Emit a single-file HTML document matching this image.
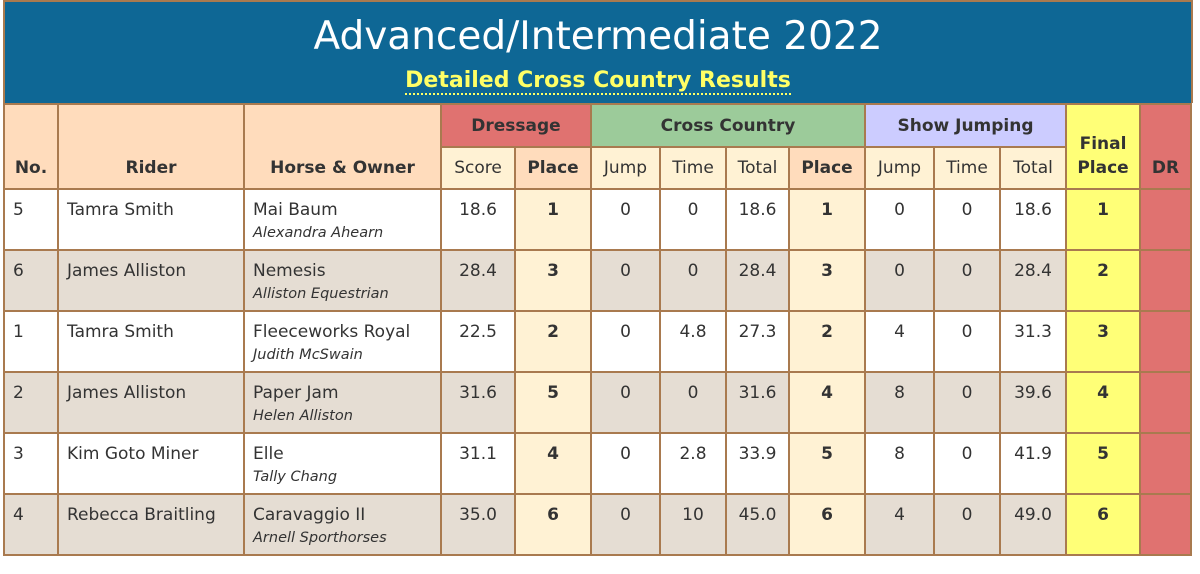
<!DOCTYPE html>
<html><head><meta charset="utf-8"><style>
body{margin:0;background:#fff;width:1200px;height:574px;overflow:hidden;font-family:"DejaVu Sans","Liberation Sans",sans-serif;color:#333;}
#title{position:absolute;left:3px;top:0;width:1186px;height:101px;background:#0e6795;border:2px solid #a97a4f;border-bottom:none;text-align:center;}
#title h1{margin:0;position:absolute;top:12px;width:100%;font-weight:normal;color:#fff;font-size:39px;font-family:"DejaVu Sans",sans-serif;letter-spacing:0px;}
#title h2{margin:0;position:absolute;top:66px;width:100%;font-size:22px;color:#ffff66;font-weight:bold;}
#title h2 span{border-bottom:2px dotted #ffff66;}
table{position:absolute;left:3px;top:103px;border-collapse:collapse;table-layout:fixed;border:2px solid #a97a4f;}
td,th{border:2px solid #a97a4f;padding:0;font-size:17px;}
th{font-weight:bold;}
.h1 th{height:41px;}
.h2 th{height:40px;}
.pe{background:#ffdcbc;}
.cr{background:#fff2d4;}
.dr{background:#e07270;}
.gr{background:#9ccb9a;}
.lv{background:#ccccff;}
.ye{background:#ffff77;}
.h2 th.n{font-weight:normal;}
tr.d td{height:61px;vertical-align:top;padding-top:10px;box-sizing:border-box;text-align:center;}
tr.d td.l{text-align:left;padding-left:8px;}
tr.d td.b{font-weight:bold;}
tr.g td{background:#e5ddd3;}
tr.d td.cr{background:#fff2d4;}
tr.d td.ye{background:#ffff77;}
tr.d td.dr{background:#e07270;}
.own{font-style:italic;font-size:14.5px;display:block;margin-top:5px;}
</style></head><body>
<div id="title">
<h1>Advanced/Intermediate 2022</h1>
<h2><span>Detailed Cross Country Results</span></h2>
</div>
<table>
<colgroup><col style="width:54px"><col style="width:186px"><col style="width:197px"><col style="width:74px"><col style="width:76px"><col style="width:69px"><col style="width:66px"><col style="width:63px"><col style="width:76px"><col style="width:69px"><col style="width:66px"><col style="width:66px"><col style="width:74px"><col style="width:51px"></colgroup>
<tr class="h1">
<th rowspan="2" class="pe" style="vertical-align:bottom;padding-bottom:10px">No.</th>
<th rowspan="2" class="pe" style="vertical-align:bottom;padding-bottom:10px">Rider</th>
<th rowspan="2" class="pe" style="vertical-align:bottom;padding-bottom:10px">Horse &amp; Owner</th>
<th colspan="2" class="dr">Dressage</th>
<th colspan="4" class="gr">Cross Country</th>
<th colspan="3" class="lv">Show Jumping</th>
<th rowspan="2" class="ye" style="vertical-align:bottom;padding-bottom:8px;line-height:24px">Final<br>Place</th>
<th rowspan="2" class="dr" style="vertical-align:bottom;padding-bottom:10px">DR</th>
</tr>
<tr class="h2">
<th class="cr n">Score</th>
<th class="pe">Place</th>
<th class="cr n">Jump</th>
<th class="cr n">Time</th>
<th class="cr n">Total</th>
<th class="pe">Place</th>
<th class="cr n">Jump</th>
<th class="cr n">Time</th>
<th class="cr n">Total</th>
</tr>
<tr class="d"><td class="l">5</td><td class="l">Tamra Smith</td><td class="l">Mai Baum<span class="own">Alexandra Ahearn</span></td><td>18.6</td><td class="cr b">1</td><td>0</td><td>0</td><td>18.6</td><td class="cr b">1</td><td>0</td><td>0</td><td>18.6</td><td class="ye b">1</td><td class="dr"></td></tr>
<tr class="d g"><td class="l">6</td><td class="l">James Alliston</td><td class="l">Nemesis<span class="own">Alliston Equestrian</span></td><td>28.4</td><td class="cr b">3</td><td>0</td><td>0</td><td>28.4</td><td class="cr b">3</td><td>0</td><td>0</td><td>28.4</td><td class="ye b">2</td><td class="dr"></td></tr>
<tr class="d"><td class="l">1</td><td class="l">Tamra Smith</td><td class="l">Fleeceworks Royal<span class="own">Judith McSwain</span></td><td>22.5</td><td class="cr b">2</td><td>0</td><td>4.8</td><td>27.3</td><td class="cr b">2</td><td>4</td><td>0</td><td>31.3</td><td class="ye b">3</td><td class="dr"></td></tr>
<tr class="d g"><td class="l">2</td><td class="l">James Alliston</td><td class="l">Paper Jam<span class="own">Helen Alliston</span></td><td>31.6</td><td class="cr b">5</td><td>0</td><td>0</td><td>31.6</td><td class="cr b">4</td><td>8</td><td>0</td><td>39.6</td><td class="ye b">4</td><td class="dr"></td></tr>
<tr class="d"><td class="l">3</td><td class="l">Kim Goto Miner</td><td class="l">Elle<span class="own">Tally Chang</span></td><td>31.1</td><td class="cr b">4</td><td>0</td><td>2.8</td><td>33.9</td><td class="cr b">5</td><td>8</td><td>0</td><td>41.9</td><td class="ye b">5</td><td class="dr"></td></tr>
<tr class="d g"><td class="l">4</td><td class="l">Rebecca Braitling</td><td class="l">Caravaggio II<span class="own">Arnell Sporthorses</span></td><td>35.0</td><td class="cr b">6</td><td>0</td><td>10</td><td>45.0</td><td class="cr b">6</td><td>4</td><td>0</td><td>49.0</td><td class="ye b">6</td><td class="dr"></td></tr>
</table>
</body></html>
